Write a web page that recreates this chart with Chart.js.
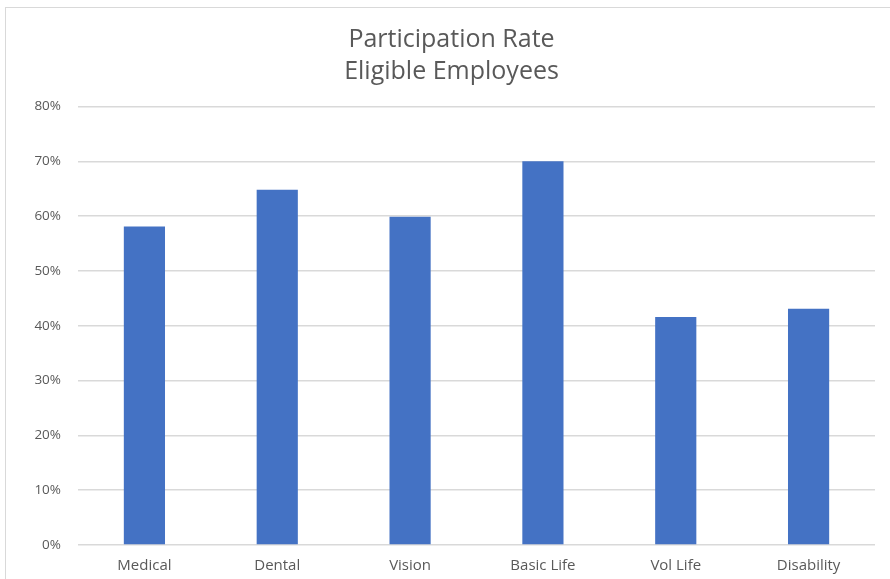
<!DOCTYPE html>
<html>
<head>
<meta charset="utf-8">
<script src="https://cdn.jsdelivr.net/npm/chart.js@4"></script>
<style>
  html, body { margin: 0; padding: 0; background: #fff; }
  #wrap { position: relative; width: 890px; height: 579px; }
  #frame { position: absolute; left: 5px; top: 7px; right: -2px; bottom: -2px; border: 1px solid #d9d9d9; pointer-events: none; }
  canvas { position: absolute; left: 0; top: 0; }
</style>
</head>
<body>
<div id="wrap">
  <canvas id="chart" width="890" height="579"></canvas>
  <div id="frame"></div>
</div>
<script>
const categories = ["Medical", "Dental", "Vision", "Basic Life", "Vol Life", "Disability"];
const rates = [58.1, 64.8, 59.9, 70, 41.6, 43.1];
const titleLines = ["Participation Rate", "Eligible Employees"];

const textColor = "#595959";
const fontFamily = "'Open Sans', 'Liberation Sans', sans-serif";

const ctx = document.getElementById("chart").getContext("2d");

new Chart(ctx, {
  type: "bar",
  data: {
    labels: categories,
    datasets: [
      {
        data: rates,
        backgroundColor: "#4472C4",
        borderWidth: 0,
        categoryPercentage: 1,
        barPercentage: 0.31
      }
    ]
  },
  options: {
    responsive: false,
    animation: false,
    layout: { padding: { left: 28, right: 15, top: 24, bottom: 0 } },
    plugins: {
      legend: { display: false },
      tooltip: { enabled: false },
      title: {
        display: true,
        text: titleLines,
        color: textColor,
        font: { family: fontFamily, size: 25, weight: "normal", lineHeight: 1.28 },
        padding: { top: 0, bottom: 18.5 }
      }
    },
    scales: {
      x: {
        grid: { display: false, drawTicks: false },
        border: { display: false },
        ticks: {
          color: textColor,
          font: { family: fontFamily, size: 15 },
          padding: 12,
          maxRotation: 0
        },
        afterFit: (scale) => { scale.height = 34; }
      },
      y: {
        min: 0,
        max: 80,
        grid: { color: "#d9d9d9", lineWidth: 1.5, drawTicks: false },
        border: { display: false },
        ticks: {
          stepSize: 10,
          color: textColor,
          font: { family: fontFamily, size: 13.5 },
          padding: 17,
          callback: (v) => v + "%"
        },
        afterFit: (scale) => { scale.width = 50; }
      }
    }
  }
});
</script>
</body>
</html>
